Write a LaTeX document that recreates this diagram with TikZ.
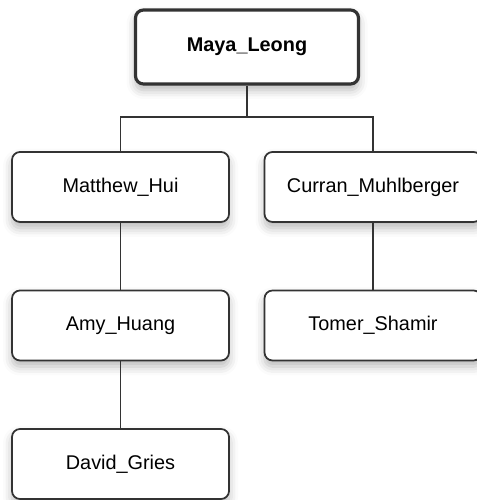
\documentclass[tikz,border=0pt]{standalone}
\usepackage{fontspec}
\setmainfont{Liberation Sans}
\usepackage{tikz}
\usetikzlibrary{positioning,shadows.blur}
\definecolor{edgegray}{HTML}{333333}

\begin{document}
\begin{tikzpicture}[-,line width=1pt,draw=edgegray,node distance=2.77cm,on grid]
		\tikzstyle{person}=[draw=edgegray,fill=white,rounded corners=0.16cm,
			minimum width=4.34cm,minimum height=1.4cm,
			blur shadow={shadow xshift=0cm,shadow yshift=-0.12cm,shadow blur radius=0.18cm,shadow opacity=28},
			font=\fontsize{11.3}{13}\selectfont]
		\tikzstyle{head}=[person,line width=1.8pt,minimum width=4.46cm,minimum height=1.48cm,
			font=\fontsize{11.3}{13}\selectfont\bfseries]
		
		\useasboundingbox (0,0) rectangle (9.52,10);
		
		\node[head] (maya) at (4.94,9.06)                  {Maya\_Leong};
		\node[person] (matthew) [below left=2.8cm and 2.53cm of maya]  {Matthew\_Hui};
		\node[person] (curran) [below right=2.8cm and 2.52cm of maya]  {Curran\_Muhlberger};
		\node[person] (amy) [below=of matthew]             {Amy\_Huang};
		\node[person] (tomer) [below=of curran]            {Tomer\_Shamir};
		\node[person] (david) [below=of amy]               {David\_Gries};
		
		\coordinate (bar) at (4.94,7.66);
		
		\draw (maya) -- (bar) -| (matthew);
		\draw (bar) -| (curran);
		\draw (matthew) -- (amy);
		\draw (amy) -- (david);
		\draw (curran) -- (tomer);
\end{tikzpicture}
\end{document}
